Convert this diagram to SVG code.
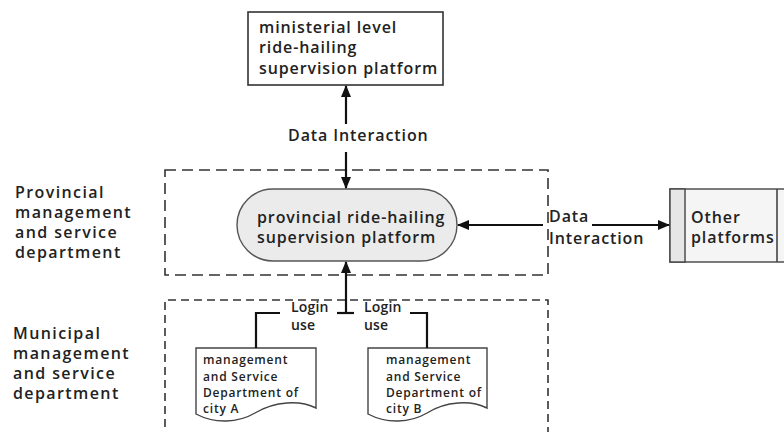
<svg xmlns="http://www.w3.org/2000/svg" width="784" height="432" viewBox="0 0 784 432">
<defs>
<style>
text{font-family:"Open Sans","Liberation Sans",sans-serif;font-weight:600;fill:#222}
.t16{font-size:16px;letter-spacing:0.9px}
.lab{font-size:16px;letter-spacing:1.4px}
.t14{font-size:14px;letter-spacing:0.2px}
.t12{font-size:12px;letter-spacing:0.8px}
.ln{stroke:#111;stroke-width:2.2;fill:none}
.zone{fill:none;stroke:#333;stroke-width:1.6}
</style>
<marker id="ah" viewBox="0 0 12 10" refX="11" refY="5" markerWidth="12" markerHeight="10" markerUnits="userSpaceOnUse" orient="auto-start-reverse">
<path d="M0,0 L12,5 L0,10 Z" fill="#111"/>
</marker>
</defs>
<rect width="784" height="432" fill="#fff"/>

<g id="zone-provincial">
<rect class="zone" x="165" y="170" width="383" height="105" stroke-dasharray="11 6"/>
<text class="lab" x="15" y="198">Provincial</text>
<text class="lab" x="15" y="218">management</text>
<text class="lab" x="15" y="238">and service</text>
<text class="lab" x="15" y="258">department</text>
</g>

<g id="zone-municipal">
<path class="zone" d="M165,440 V300 H548 V440" stroke-dasharray="8 5"/>
<text class="lab" x="13" y="339">Municipal</text>
<text class="lab" x="13" y="359">management</text>
<text class="lab" x="13" y="379">and service</text>
<text class="lab" x="13" y="399">department</text>
</g>

<g id="node-ministerial">
<rect x="248" y="12" width="195" height="73" fill="#fff" stroke="#333" stroke-width="1.6"/>
<text class="t16" x="259" y="33">ministerial level</text>
<text class="t16" x="259" y="53">ride-hailing</text>
<text class="t16" x="259" y="74">supervision platform</text>
</g>

<g id="node-provincial">
<rect x="237" y="189" width="220" height="72" rx="36" ry="36" fill="#ebebeb" stroke="#555" stroke-width="1.4"/>
<text class="t16" x="257" y="223">provincial ride-hailing</text>
<text class="t16" x="257" y="243">supervision platform</text>
</g>

<g id="node-other">
<rect x="670" y="189" width="130" height="73" fill="#f5f5f5" stroke="#444" stroke-width="1.4"/>
<rect x="670" y="189" width="15" height="73" fill="#e6e6e6" stroke="#444" stroke-width="1.4"/>
<line x1="777" y1="189" x2="777" y2="262" stroke="#444" stroke-width="1.6"/>
<text class="t16" x="691" y="223">Other</text>
<text class="t16" x="691" y="243">platforms</text>
</g>

<g id="node-cityA">
<path d="M196,348 H316 V408 C300,400 275,401 255,413 C238,423 215,424 196,414 Z" fill="#fff" stroke="#444" stroke-width="1.4"/>
<text class="t12" x="203" y="364">management</text>
<text class="t12" x="203" y="381">and Service</text>
<text class="t12" x="203" y="397">Department of</text>
<text class="t12" x="203" y="413">city A</text>
</g>

<g id="node-cityB">
<path d="M368,348 H487 V408 C471,400 446,401 427,413 C410,423 387,424 368,414 Z" fill="#fff" stroke="#444" stroke-width="1.4"/>
<text class="t12" x="386" y="364">management</text>
<text class="t12" x="386" y="381">and Service</text>
<text class="t12" x="386" y="397">Department of</text>
<text class="t12" x="386" y="413">city B</text>
</g>

<g id="connectors">
<line class="ln" x1="346" y1="124" x2="346" y2="86" marker-end="url(#ah)"/>
<line class="ln" x1="346" y1="152" x2="346" y2="188" marker-end="url(#ah)"/>
<text class="t16" x="288" y="141">Data Interaction</text>

<line class="ln" x1="543" y1="225" x2="458" y2="225" marker-end="url(#ah)"/>
<line class="ln" x1="592" y1="225" x2="669" y2="225" marker-end="url(#ah)"/>
<text class="t16" x="549" y="222">Data</text>
<text class="t16" x="549" y="244">Interaction</text>

<line class="ln" x1="346" y1="313" x2="346" y2="262" marker-end="url(#ah)"/>
<line class="ln" x1="337" y1="313" x2="354" y2="313"/>
<path class="ln" d="M280,313 H256 V348"/>
<path class="ln" d="M410,313 H427 V348"/>
<text class="t14" x="291" y="312">Login</text>
<text class="t14" x="291" y="330">use</text>
<text class="t14" x="364" y="312">Login</text>
<text class="t14" x="364" y="330">use</text>
</g>
</svg>
